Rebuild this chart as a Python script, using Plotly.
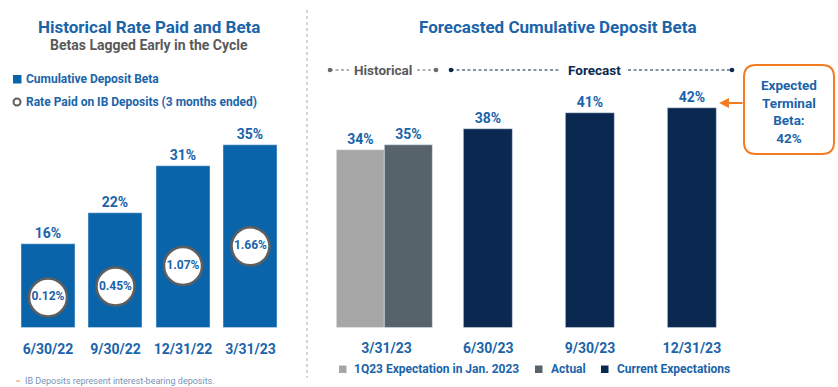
import plotly.graph_objects as go

# ---------------- data ----------------
hist_dates = ["6/30/22", "9/30/22", "12/31/22", "3/31/23"]
hist_beta = [16, 22, 31, 35]
hist_rate = [0.12, 0.45, 1.07, 1.66]

fc_dates = ["3/31/23", "6/30/23", "9/30/23", "12/31/23"]
jan_expect = [34, None, None, None]
actual = [35, None, None, None]
current = [None, 38, 41, 42]

legend_left = ["Cumulative Deposit Beta", "Rate Paid on IB Deposits (3 months ended)"]
legend_right = ["1Q23 Expectation in Jan. 2023", "Actual", "Current Expectations"]
terminal_beta = 42

# ---------------- style ----------------
W, H = 838, 387
FONT = "Roboto"
BLUE_BAR = "#0A64AA"
TXT_BLUE = "#1A64AA"
NAVY = "#0B2850"
LGRAY = "#A6A6A6"
DGRAY = "#56636B"
ORANGE = "#F47B20"
GRAYTXT = "#5A5A5A"
CIRC = "#5F5F5F"


def px(x):
    return x / W


def py(y):
    return 1 - y / H


fig = go.Figure()

val_font = dict(family=FONT, size=14, color=TXT_BLUE, weight="bold")

# left bars
fig.add_trace(go.Bar(
    x=hist_dates, y=hist_beta, marker_color=BLUE_BAR, width=0.8,
    texttemplate="%{y}%", textposition="outside", cliponaxis=False,
    textfont=val_font, xaxis="x", yaxis="y", showlegend=False, name=legend_left[0]))

# left circles (rate paid) on overlay axis
fig.add_trace(go.Scatter(
    x=hist_dates, y=hist_rate, mode="markers+text",
    marker=dict(size=38, color="white", line=dict(color=CIRC, width=2.5)),
    text=[f"{v:.2f}%" for v in hist_rate], textposition="middle center",
    textfont=dict(family=FONT, size=12, color=TXT_BLUE, weight="bold"),
    xaxis="x", yaxis="y3", showlegend=False, cliponaxis=False, name=legend_left[1]))

# right bars
fig.add_trace(go.Bar(
    x=fc_dates, y=jan_expect, marker_color=LGRAY, width=0.47, offset=-0.49,
    texttemplate="%{y}%", textposition="outside", cliponaxis=False,
    textfont=val_font, xaxis="x2", yaxis="y2", showlegend=False, name=legend_right[0]))
fig.add_trace(go.Bar(
    x=fc_dates, y=actual, marker_color=DGRAY, width=0.47, offset=-0.02,
    texttemplate="%{y}%", textposition="outside", cliponaxis=False,
    textfont=val_font, xaxis="x2", yaxis="y2", showlegend=False, name=legend_right[1]))
fig.add_trace(go.Bar(
    x=fc_dates, y=current, marker_color=NAVY, width=0.476, offset=-0.238,
    texttemplate="%{y}%", textposition="outside", cliponaxis=False,
    textfont=val_font, xaxis="x2", yaxis="y2", showlegend=False, name=legend_right[2]))

ydom = [py(327.5), py(100)]
yrange = [0, 227.5 / 5.22]

axis_common = dict(showgrid=False, zeroline=False, showline=False)
tick_font = dict(family=FONT, size=14, color=TXT_BLUE, weight="bold")
fig.update_layout(
    width=W, height=H, margin=dict(l=0, r=0, t=0, b=0),
    paper_bgcolor="white", plot_bgcolor="white",
    barmode="overlay", bargap=0,
    font=dict(family=FONT),
    xaxis=dict(domain=[px(14.25), px(284.25)], range=[-0.5, 3.5], type="category",
               tickfont=tick_font, ticks="", ticklabelstandoff=11, **axis_common),
    yaxis=dict(domain=ydom, range=yrange, visible=False, **axis_common),
    yaxis3=dict(overlaying="y", range=[-0.7855, 6.072], visible=False, **axis_common),
    xaxis2=dict(domain=[px(335.6), px(742.8)], range=[-0.5, 3.5], type="category",
                tickfont=tick_font, ticks="", ticklabelstandoff=10, anchor="y2", **axis_common),
    yaxis2=dict(domain=ydom, range=yrange, visible=False, anchor="x2", **axis_common),
)

ann = []
shapes = []

# titles
ann.append(dict(text="<b>Historical Rate Paid and Beta</b>", x=px(148.5), y=py(27),
                font=dict(size=17, color=TXT_BLUE)))
ann.append(dict(text="<b>Betas Lagged Early in the Cycle</b>", x=px(149), y=py(45),
                font=dict(size=14, color=GRAYTXT)))
ann.append(dict(text="<b>Forecasted Cumulative Deposit Beta</b>", x=px(558), y=py(27),
                font=dict(size=17, color=TXT_BLUE)))

# left legend
ann.append(dict(text=f"<b>{legend_left[0]}</b>", x=px(24), y=py(79), xanchor="left",
                font=dict(size=12, color=TXT_BLUE)))
ann.append(dict(text=f"<b>{legend_left[1]}</b>", x=px(24), y=py(102), xanchor="left",
                font=dict(size=12, color=TXT_BLUE)))
shapes.append(dict(type="rect", xref="paper", yref="paper", x0=px(13), x1=px(21.5),
                   y0=py(83.5), y1=py(75), fillcolor=BLUE_BAR, line=dict(width=0)))
shapes.append(dict(type="circle", xref="paper", yref="paper", x0=px(13.5), x1=px(20.5),
                   y0=py(105.5), y1=py(98.5), fillcolor="white", line=dict(color=CIRC, width=2)))

# right legend
leg_sq = [(339, LGRAY, 352), (535, DGRAY, 549), (601, NAVY, 614.5)]
for (sx, col, tx), name in zip(leg_sq, legend_right):
    shapes.append(dict(type="rect", xref="paper", yref="paper", x0=px(sx), x1=px(sx + 7.5),
                       y0=py(373), y1=py(365.5), fillcolor=col, line=dict(width=0)))
    ann.append(dict(text=f"<b>{name}</b>", x=px(tx), y=py(369), xanchor="left",
                    font=dict(size=12, color=TXT_BLUE)))

# header segments
ann.append(dict(text="<b>Historical</b>", x=px(383), y=py(70), font=dict(size=13.5, color=GRAYTXT)))
ann.append(dict(text="<b>Forecast</b>", x=px(594), y=py(70), font=dict(size=13.5, color=NAVY)))
for x0, x1, col in [(330, 349, "#6B6B6B"), (417, 436, "#6B6B6B"), (451, 560, NAVY), (628, 732, NAVY)]:
    shapes.append(dict(type="line", xref="paper", yref="paper", x0=px(x0), x1=px(x1),
                       y0=py(70), y1=py(70), line=dict(color=col, width=1.2, dash="3px,2.5px")))
for cx, col in [(330, "#6B6B6B"), (436, "#6B6B6B"), (451, NAVY), (732, NAVY)]:
    r = 2.3
    shapes.append(dict(type="circle", xref="paper", yref="paper", x0=px(cx - r), x1=px(cx + r),
                       y0=py(70 + r), y1=py(70 - r), fillcolor=col, line=dict(width=0)))

# separator
shapes.append(dict(type="line", xref="paper", yref="paper", x0=px(307), x1=px(307),
                   y0=py(10), y1=py(378), line=dict(color="#C8C8C8", width=1.5, dash="dot")))

# orange callout (rounded box)
bx0, bx1, by0, by1, rr = 744, 834, 65, 154, 12
path = (f"M {px(bx0 + rr)},{py(by0)} L {px(bx1 - rr)},{py(by0)} "
        f"Q {px(bx1)},{py(by0)} {px(bx1)},{py(by0 + rr)} L {px(bx1)},{py(by1 - rr)} "
        f"Q {px(bx1)},{py(by1)} {px(bx1 - rr)},{py(by1)} L {px(bx0 + rr)},{py(by1)} "
        f"Q {px(bx0)},{py(by1)} {px(bx0)},{py(by1 - rr)} L {px(bx0)},{py(by0 + rr)} "
        f"Q {px(bx0)},{py(by0)} {px(bx0 + rr)},{py(by0)} Z")
shapes.append(dict(type="path", xref="paper", yref="paper", path=path,
                   line=dict(color=ORANGE, width=2), fillcolor="white"))
ann.append(dict(text=f"<b>Expected<br>Terminal<br>Beta:<br>{terminal_beta}%</b>",
                x=px(789), y=py(111), font=dict(size=13.5, color=TXT_BLUE)))
ann.append(dict(text="", x=px(719), y=py(103), ax=25, ay=0, showarrow=True,
                arrowhead=2, arrowsize=1, arrowwidth=2, arrowcolor=ORANGE,
                font=dict(size=10)))

# footnote
shapes.append(dict(type="line", xref="paper", yref="paper", x0=px(16), x1=px(20),
                   y0=py(381), y1=py(381), line=dict(color="#F6B27E", width=1.5)))
ann.append(dict(text="IB Deposits represent interest-bearing deposits.",
                x=px(23), y=py(381), xanchor="left", font=dict(size=9, color="#7A93B5")))

for a in ann:
    a.setdefault("xref", "paper")
    a.setdefault("yref", "paper")
    a.setdefault("showarrow", False)
    a.setdefault("xanchor", "center")
    a.setdefault("yanchor", "middle")
    a.setdefault("font", {})
    a["font"].setdefault("family", FONT)
fig.update_layout(annotations=ann, shapes=shapes)

fig.write_html("out.html", config={"displayModeBar": False},
               post_script="document.body.style.margin='0';document.body.style.overflow='hidden';")
